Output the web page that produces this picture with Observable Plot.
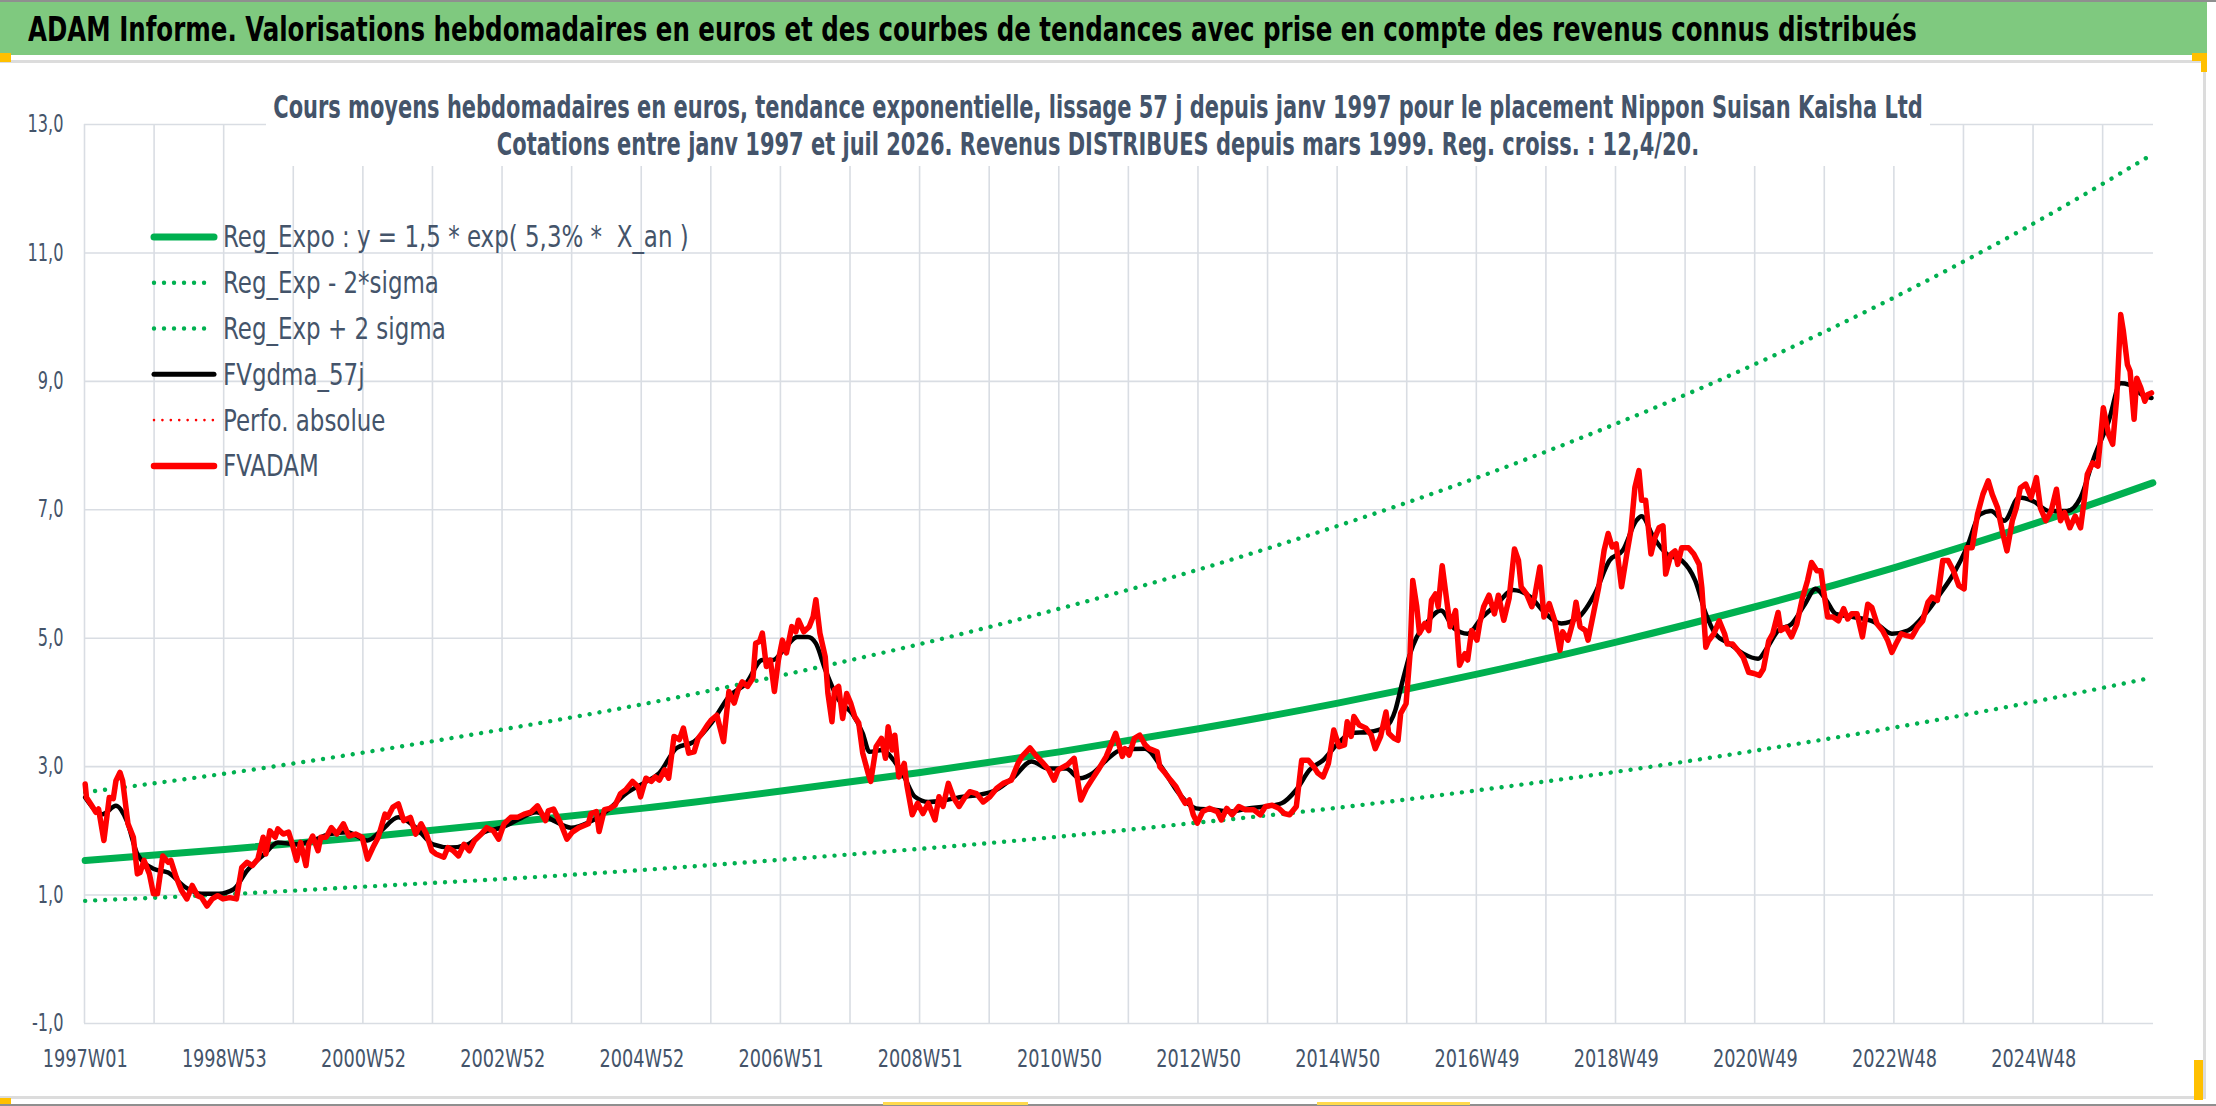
<!DOCTYPE html>
<html lang="fr">
<head>
<meta charset="utf-8">
<title>ADAM Informe – Nippon Suisan Kaisha Ltd</title>
<script src="https://cdn.jsdelivr.net/npm/d3@7"></script>
<script src="https://cdn.jsdelivr.net/npm/@observablehq/plot@0.6"></script>
<style>
html,body{margin:0;padding:0;background:#fff;overflow:hidden;}
#page{position:relative;width:2216px;height:1106px;background:#fff;overflow:hidden;}
#chart{position:absolute;left:0;top:62px;width:2216px;height:1035px;}
#overlay{position:absolute;left:0;top:0;pointer-events:none;}
</style>
</head>
<body>
<div id="page"><div id="chart"></div><svg id="overlay" width="2216" height="1106" xmlns="http://www.w3.org/2000/svg"></svg></div>
<script>
const FONT = "'Liberation Sans Narrow','DejaVu Sans Condensed','Liberation Sans',Arial,sans-serif";
const TEXT = "#44546a";
const GREEN = "#00b050", RED = "#ff0000", BLACK = "#000000", GRID = "#d9dde3";

const titleText = "ADAM Informe. Valorisations hebdomadaires en euros et des courbes de tendances avec prise en compte des revenus connus distribués";
const subtitleLines = [
  "Cours moyens hebdomadaires en euros, tendance exponentielle, lissage 57 j depuis janv 1997 pour le placement Nippon Suisan Kaisha Ltd",
  "Cotations entre janv 1997 et juil 2026. Revenus DISTRIBUES depuis mars 1999. Reg. croiss. : 12,4/20."
];

const xLabels = ["1997W01","1998W53","2000W52","2002W52","2004W52","2006W51","2008W51","2010W50","2012W50","2014W50","2016W49","2018W49","2020W49","2022W48","2024W48"];
const yTicks = [-1, 1, 3, 5, 7, 9, 11, 13];
const nWeeks = 1546;

// Trend curves (week index since 1997W01)
const trendWeeks = [0,104,208,312,416,520,624,728,832,936,1040,1144,1248,1352,1456,1545];
const regExpo  = [1.54,1.71,1.90,2.12,2.35,2.62,2.91,3.23,3.59,3.99,4.44,4.94,5.49,6.10,6.78,7.42];
const regPlus  = [2.60,2.89,3.22,3.58,3.97,4.42,4.91,5.46,6.07,6.75,7.50,8.34,9.27,10.31,11.46,12.54];
const regMinus = [0.91,1.01,1.13,1.25,1.39,1.55,1.72,1.91,2.13,2.36,2.63,2.92,3.25,3.61,4.01,4.39];

// FVgdma_57j (smoothed) [week, value]
const fvgdma = [[0,2.52],[13,2.26],[23,2.39],[31,2.16],[39,1.64],[51,1.41],[62,1.35],[75,1.12],[87,1.02],[100,1.02],[111,1.09],[121,1.38],[134,1.64],[144,1.82],[157,1.79],[170,1.85],[183,1.95],[196,1.98],[211,1.85],[221,2.00],[234,2.21],[247,2.05],[260,1.79],[273,1.74],[286,1.79],[298,1.98],[311,2.05],[324,2.18],[337,2.29],[350,2.16],[363,2.05],[376,2.13],
[391,2.33],[404,2.58],[417,2.74],[429,2.90],[442,3.29],[455,3.39],[468,3.68],[481,4.09],[494,4.30],[506,4.66],[514,4.66],[522,4.82],[532,5.02],[540,5.02],[546,4.92],[553,4.51],[563,4.04],[573,3.83],[581,3.52],[586,3.23],[596,3.26],[604,3.10],[612,2.84],[620,2.53],[630,2.45],[643,2.48],[656,2.53],[668,2.56],[681,2.64],[694,2.84],[707,3.08],[720,2.97],[733,2.97],[743,2.82],[753,2.90],[763,3.10],[774,3.26],
[792,3.28],[804,3.00],[817,2.59],[830,2.35],[843,2.33],[856,2.30],[869,2.35],[882,2.38],[894,2.43],[905,2.64],[915,2.95],[925,3.10],[936,3.36],[946,3.52],[959,3.54],[972,3.62],[979,3.88],[984,4.30],[990,4.76],[995,5.02],[1002,5.23],[1013,5.43],[1023,5.15],[1033,5.07],[1044,5.33],[1054,5.51],[1067,5.75],[1080,5.64],[1090,5.41],[1103,5.23],[1116,5.33],[1128,5.69],[1139,6.21],[1149,6.37],[1159,6.83],[1163,6.90],
[1172,6.57],[1182,6.31],[1193,6.21],[1203,5.90],[1211,5.38],[1218,5.07],[1229,4.91],[1239,4.76],[1250,4.68],[1257,4.86],[1265,5.12],[1275,5.22],[1285,5.53],[1293,5.77],[1301,5.59],[1308,5.38],[1321,5.33],[1337,5.25],[1350,5.07],[1362,5.12],[1375,5.38],[1386,5.69],[1396,6.00],[1406,6.41],[1416,6.93],[1424,6.98],[1434,6.83],[1445,7.19],[1455,7.14],[1468,6.98],[1481,6.98],[1491,7.19],[1501,7.81],[1512,8.38],[1521,8.97],[1527,8.95],[1537,8.79],[1544,8.74]];

// FVADAM weekly valuations [week, value]
const fvadam = [[0,2.73],[1,2.52],[5,2.39],[8,2.29],[10,2.34],[14,1.85],[18,2.52],[21,2.50],[23,2.78],[26,2.91],[28,2.78],[32,2.11],[36,1.90],[39,1.33],[41,1.35],[44,1.54],[48,1.33],[51,1.02],[54,1.02],[58,1.61],[62,1.51],[64,1.54],[68,1.28],[72,1.07],[76,0.94],[80,1.15],[84,0.99],[87,0.96],[91,0.83],[95,0.94],[99,0.99],[103,0.94],[108,0.96],[113,0.94],[117,1.43],[121,1.51],[125,1.46],[129,1.56],[133,1.90],[135,1.64],[138,2.00],[142,1.90],[144,2.03],[148,1.95],[152,1.98],[154,1.85],[158,1.54],[161,1.82],[165,1.46],[167,1.79],[170,1.92],[174,1.69],[176,1.90],[180,1.90],[184,2.05],[188,1.95],[193,2.11],[197,1.92],[202,1.95],[207,1.90],[211,1.56],[215,1.74],[219,1.90],[224,2.26],[226,2.21],[230,2.37],[234,2.42],[238,2.16],[243,2.21],[247,1.95],[251,2.11],[255,1.95],[259,1.69],[262,1.64],[268,1.59],[271,1.74],[275,1.69],[279,1.61],[283,1.79],[287,1.69],[291,1.85],[296,1.95],[300,2.05],[305,2.00],[309,1.87],[313,2.11],[318,2.21],[323,2.21],[328,2.26],[333,2.29],[338,2.39],[344,2.16],[346,2.31],[350,2.34],[355,2.13],[360,1.87],[364,1.98],[369,2.05],[376,2.11],
[378,2.27],[382,2.30],[384,1.99],[388,2.33],[392,2.35],[396,2.40],[400,2.58],[404,2.64],[409,2.77],[413,2.69],[415,2.53],[419,2.82],[423,2.77],[426,2.84],[429,2.79],[433,2.95],[436,2.82],[440,3.47],[444,3.42],[447,3.60],[451,3.21],[455,3.23],[458,3.44],[461,3.52],[465,3.65],[468,3.73],[472,3.80],[477,3.39],[481,4.17],[485,3.99],[488,4.20],[491,4.32],[495,4.25],[499,4.38],[501,4.92],[504,4.95],[506,5.08],[509,4.56],[512,4.66],[515,4.17],[518,4.66],[521,4.97],[524,4.77],[528,5.18],[531,5.10],[533,5.28],[537,5.10],[541,5.18],[544,5.34],[546,5.60],[549,5.08],[553,4.71],[555,4.14],[558,3.70],[560,4.20],[563,4.25],[566,3.75],[569,4.14],[572,3.99],[575,3.78],[578,3.68],[581,3.21],[585,2.90],[587,2.77],[591,3.31],[595,3.44],[598,3.13],[600,3.62],[603,3.26],[605,3.49],[608,2.84],[612,3.05],[614,2.71],[618,2.25],[622,2.43],[626,2.27],[630,2.43],[635,2.17],[638,2.53],[641,2.38],[645,2.74],[649,2.51],[653,2.38],[657,2.51],[661,2.61],[666,2.58],[671,2.45],[676,2.53],[681,2.66],[686,2.74],[692,2.79],[697,3.05],[700,3.16],[706,3.29],[711,3.16],[716,3.05],[720,2.95],[724,2.79],[727,2.95],[734,3.03],[739,3.13],[742,2.74],[744,2.48],[748,2.66],[752,2.79],[757,2.95],[763,3.16],[770,3.52],[775,3.16],
[777,3.28],[780,3.18],[784,3.44],[788,3.49],[792,3.34],[795,3.28],[801,3.23],[803,3.00],[807,2.90],[811,2.79],[815,2.69],[819,2.53],[822,2.43],[825,2.48],[828,2.25],[831,2.12],[835,2.30],[840,2.35],[846,2.30],[849,2.17],[853,2.35],[857,2.25],[862,2.38],[867,2.33],[873,2.33],[878,2.25],[882,2.38],[887,2.40],[892,2.35],[896,2.27],[900,2.25],[905,2.38],[909,3.10],[914,3.10],[918,3.00],[921,2.90],[925,2.84],[929,3.05],[933,3.57],[937,3.31],[941,3.34],[943,3.70],[946,3.47],[948,3.78],[952,3.65],[957,3.60],[961,3.49],[964,3.28],[968,3.47],[972,3.85],[974,3.52],[978,3.44],[981,3.41],[983,3.83],[987,3.98],[990,4.76],[992,5.90],[995,5.49],[997,5.08],[1001,5.23],[1004,5.12],[1006,5.59],[1009,5.69],[1011,5.49],[1014,6.13],[1018,5.49],[1020,5.18],[1024,5.43],[1027,4.58],[1031,4.76],[1033,4.66],[1036,5.12],[1040,4.97],[1042,5.23],[1045,5.49],[1049,5.67],[1053,5.38],[1056,5.67],[1060,5.28],[1064,5.62],[1068,6.39],[1071,6.21],[1073,5.80],[1077,5.69],[1081,5.49],[1083,5.64],[1087,6.11],[1090,5.33],[1094,5.54],[1098,5.28],[1102,4.81],[1104,5.10],[1108,4.97],[1112,5.28],[1114,5.56],[1117,5.18],[1121,5.12],[1123,4.97],[1127,5.38],[1131,5.80],[1135,6.37],[1138,6.63],[1141,6.42],[1144,6.47],[1148,5.80],[1152,6.32],[1155,6.68],[1158,7.35],[1161,7.61],[1163,7.15],[1166,7.15],
[1170,6.31],[1173,6.57],[1176,6.72],[1179,6.75],[1181,6.00],[1185,6.31],[1188,6.36],[1190,6.15],[1193,6.41],[1198,6.41],[1202,6.31],[1206,6.15],[1208,5.79],[1211,4.86],[1213,4.96],[1217,5.07],[1221,5.27],[1225,5.07],[1227,4.91],[1231,4.91],[1235,4.81],[1239,4.70],[1243,4.47],[1247,4.45],[1251,4.42],[1254,4.52],[1258,4.96],[1261,5.07],[1265,5.40],[1267,5.12],[1271,5.17],[1275,5.02],[1279,5.22],[1283,5.61],[1287,5.90],[1290,6.18],[1294,6.05],[1297,6.05],[1299,5.74],[1302,5.33],[1306,5.33],[1310,5.27],[1314,5.46],[1317,5.30],[1320,5.38],[1324,5.38],[1328,5.02],[1332,5.53],[1335,5.48],[1339,5.22],[1343,5.12],[1347,4.96],[1350,4.78],[1353,4.91],[1357,5.07],[1361,5.04],[1365,5.02],[1369,5.17],[1373,5.27],[1377,5.56],[1380,5.64],[1384,5.59],[1388,6.21],[1392,6.21],[1396,6.05],[1400,5.82],[1404,5.77],[1406,6.41],[1410,6.41],[1414,6.93],[1418,7.24],[1422,7.45],[1425,7.24],[1429,7.03],[1433,6.62],[1436,6.36],[1440,6.83],[1443,7.03],[1446,7.34],[1450,7.40],[1454,7.19],[1458,7.50],[1461,7.03],[1465,6.83],[1469,6.98],[1473,7.32],[1476,6.83],[1479,6.96],[1483,6.72],[1487,6.90],[1491,6.72],[1494,7.19],[1496,7.55],[1500,7.73],[1504,7.68],[1508,8.59],[1512,8.17],[1515,8.02],[1518,8.74],[1521,10.04],[1523,9.78],[1526,9.26],[1528,9.16],[1531,8.41],[1533,9.05],[1536,8.90],[1539,8.69],[1541,8.79],[1544,8.82]];

const legendLabels = ["Reg_Expo : y = 1,5 * exp( 5,3% *  X_an )", "Reg_Exp - 2*sigma", "Reg_Exp + 2 sigma", "FVgdma_57j", "Perfo. absolue", "FVADAM"];
const legendStyles = [
  {stroke: GREEN, width: 7, dash: null},
  {stroke: GREEN, width: 4.4, dash: "0.01 10"},
  {stroke: GREEN, width: 4.4, dash: "0.01 10"},
  {stroke: BLACK, width: 5, dash: null},
  {stroke: RED, width: 2.6, dash: "0.01 8.4"},
  {stroke: RED, width: 6.5, dash: null}
];

// ---------- Plot ----------
const cx = w => w + 0.5;
const dotted = {strokeWidth: 4.4, strokeDasharray: "0.01 10", strokeLinecap: "round"};
const plotEl = Plot.plot({
  width: 2216, height: 1035,
  marginLeft: 84, marginRight: 63, marginTop: 62, marginBottom: 74,
  style: {fontFamily: FONT, color: TEXT, background: "transparent", overflow: "visible"},
  x: {domain: [0, nWeeks], label: null},
  y: {domain: [-1, 13], label: null},
  marks: [
    Plot.gridX(d3.range(0, nWeeks, 52), {stroke: GRID, strokeOpacity: 1, strokeWidth: 1.6}),
    Plot.gridY(yTicks, {stroke: GRID, strokeOpacity: 1, strokeWidth: 1.6}),
    Plot.axisY(yTicks, {tickSize: 0, tickPadding: 21, fontSize: 24, label: null,
      tickFormat: d => d.toFixed(1).replace(".", ",")}),
    Plot.axisX(xLabels.map((_, i) => i * 104 + 0.5), {tickSize: 0, tickPadding: 26, fontSize: 24, label: null,
      tickFormat: d => xLabels[Math.round((d - 0.5) / 104)]}),
    Plot.line(trendWeeks, {x: cx, y: (w, i) => regExpo[i], stroke: GREEN, strokeWidth: 7, curve: "natural"}),
    Plot.line(trendWeeks, {x: cx, y: (w, i) => regMinus[i], stroke: GREEN, curve: "natural", ...dotted}),
    Plot.line(trendWeeks, {x: cx, y: (w, i) => regPlus[i], stroke: GREEN, curve: "natural", ...dotted}),
    Plot.line(fvgdma, {x: d => cx(d[0]), y: d => d[1], stroke: BLACK, strokeWidth: 4.5, curve: "monotone-x"}),
    Plot.line(fvadam, {x: d => cx(d[0]), y: d => d[1], stroke: RED, strokeWidth: 5.5, curve: "linear"})
  ]
});
document.getElementById("chart").append(plotEl);

// horizontal-only rescale of a text around its anchor (keeps Plot's own translate)
function scaleText(t, k) {
  const x = parseFloat(t.getAttribute("x")) || 0;
  const tr = t.getAttribute("transform") || "";
  t.setAttribute("transform", `${tr} translate(${x},0) scale(${k},1) translate(${-x},0)`);
}
const xt = [...plotEl.querySelectorAll('[aria-label="x-axis tick label"] text')];
if (xt.length) { const k = 85 / xt[0].getComputedTextLength(); xt.forEach(t => scaleText(t, k)); }
const yt = [...plotEl.querySelectorAll('[aria-label="y-axis tick label"] text')];
if (yt.length) { const ref = yt.find(t => t.textContent === "11,0") || yt[0]; const k = 36 / ref.getComputedTextLength(); yt.forEach(t => scaleText(t, k)); }

// ---------- Overlay: frame, title, subtitle, legend ----------
const ov = d3.select("#overlay").style("font-family", FONT);
const rect = (x, y, w, h, fill) => ov.append("rect").attr("x", x).attr("y", y).attr("width", w).attr("height", h).attr("fill", fill);
rect(0, 2, 2207, 53, "#7fc97f");
rect(0, 0, 2216, 2, "#8f8f8f");
rect(0, 1104, 2216, 2, "#8f8f8f");
rect(0, 60, 2206, 3, "#dcdcdc");
rect(2203, 60, 3, 1039, "#dcdcdc");
rect(0, 1096, 2206, 3, "#dcdcdc");
rect(0, 53, 11, 9, "#ffc000");
rect(2192, 53, 15, 8, "#ffc000");
rect(2201, 53, 6, 19, "#ffc000");
rect(2194, 1060, 9, 40, "#ffc000");
rect(0, 1098, 11, 6, "#ffc000");
rect(883, 1102, 145, 3, "#ffd94d");
rect(1317, 1102, 153, 3, "#ffd94d");

function fitText(sel, target, ax, ay) {
  const len = sel.node().getComputedTextLength();
  const k = target / len;
  sel.attr("transform", `translate(${ax},${ay}) scale(${k},1) translate(${-ax},${-ay})`);
  return k;
}
function scaleSel(sel, k, ax, ay) {
  sel.attr("transform", `translate(${ax},${ay}) scale(${k},1) translate(${-ax},${-ay})`);
}

const title = ov.append("text").attr("x", 28).attr("y", 41).attr("font-size", 33).attr("font-weight", "bold").attr("fill", "#000").text(titleText);
fitText(title, 1889, 28, 41);

rect(266, 88, 1664, 78, "#ffffff");
const sub1 = ov.append("text").attr("x", 1098).attr("y", 118).attr("text-anchor", "middle").attr("font-size", 32).attr("font-weight", "bold").attr("fill", TEXT).text(subtitleLines[0]);
const ks = fitText(sub1, 1650, 1098, 118);
const sub2 = ov.append("text").attr("x", 1098).attr("y", 155).attr("text-anchor", "middle").attr("font-size", 32).attr("font-weight", "bold").attr("fill", TEXT).text(subtitleLines[1]);
scaleSel(sub2, ks, 1098, 155);

const rowY = legendLabels.map((_, i) => 236.9 + 45.8 * i);
const legTexts = legendLabels.map((lab, i) => {
  const st = legendStyles[i];
  const ln = ov.append("line").attr("x1", 154).attr("x2", 214).attr("y1", rowY[i]).attr("y2", rowY[i])
    .attr("stroke", st.stroke).attr("stroke-width", st.width).attr("stroke-linecap", "round");
  if (st.dash) ln.attr("stroke-dasharray", st.dash);
  return ov.append("text").attr("x", 223).attr("y", rowY[i] + 10.5).attr("font-size", 30).attr("fill", TEXT)
    .style("white-space", "pre").text(lab);
});
const kl = 216 / legTexts[1].node().getComputedTextLength();
legTexts.forEach((t, i) => scaleSel(t, kl, 223, rowY[i] + 10.5));
</script>
</body>
</html>
